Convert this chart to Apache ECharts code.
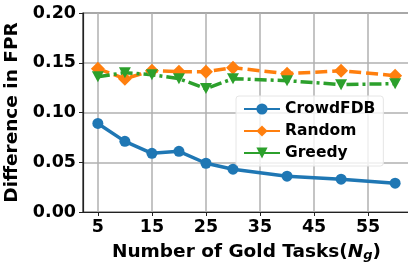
<!DOCTYPE html>
<html>
<head>
<meta charset="utf-8">
<script src="https://cdn.jsdelivr.net/npm/echarts@6/dist/echarts.min.js"></script>
<style>
  html, body { margin: 0; padding: 0; background: #fff; }
  #chart { width: 408px; height: 264px; }
</style>
</head>
<body>
<div id="chart"></div>
<script>
    const goldTasks = [5, 10, 15, 20, 25, 30, 40, 50, 60];
    const crowdFdb = [0.089, 0.071, 0.059, 0.061, 0.049, 0.043, 0.036, 0.033, 0.029];
    const randomSel = [0.144, 0.134, 0.142, 0.141, 0.141, 0.145, 0.139, 0.142, 0.137];
    const greedySel = [0.136, 0.140, 0.138, 0.134, 0.124, 0.134, 0.132, 0.128, 0.129];
    const xTicks = [5, 15, 25, 35, 45, 55];

    const font = "DejaVu Sans";
    const downTriangle = "path://M0,0 L10,0 L5,9 Z";
    const pairs = values => goldTasks.map((x, i) => [x, values[i]]);

    const chart = echarts.init(document.getElementById("chart"), null, { renderer: "canvas" });

    function lineSeries(name, values, color, symbol, symbolSize, dash) {
        return {
            name,
            type: "line",
            data: pairs(values),
            symbol,
            symbolSize,
            showSymbol: true,
            lineStyle: { width: 3.5, color, type: dash },
            itemStyle: { color, borderWidth: 0 },
            emphasis: { disabled: true },
            z: 3
        };
    }

    chart.setOption({
        animation: false,
        backgroundColor: "#fff",
        textStyle: { fontFamily: font },
        grid: {
            show: true,
            left: 83, right: -2, top: 13, bottom: 52,
            outerBoundsMode: "none",
            containLabel: false,
            borderColor: "#222",
            borderWidth: 1.2
        },
        legend: {
            left: 236,
            top: 96,
            orient: "vertical",
            itemWidth: 36,
            itemHeight: 14,
            itemGap: 6,
            padding: [5, 8, 5, 7],
            backgroundColor: "rgba(255,255,255,0.8)",
            borderColor: "#e6e6e6",
            borderWidth: 1,
            borderRadius: 3,
            lineStyle: { type: "solid" },
            textStyle: { fontFamily: font, fontWeight: "bold", fontSize: 15.5, color: "#000" },
            data: ["CrowdFDB", "Random", "Greedy"]
        },
        xAxis: {
            type: "value",
            min: 2.25,
            max: 62.75,
            name: "Number of Gold Tasks({n|N}{s|g})",
            nameLocation: "middle",
            nameGap: 30,
            nameTextStyle: {
                fontFamily: font,
                fontWeight: "bold",
                fontSize: 18.5,
                color: "#000",
                rich: {
                    n: { fontFamily: font, fontWeight: "bold", fontStyle: "italic", fontSize: 18.5, color: "#000" },
                    s: { fontFamily: font, fontWeight: "bold", fontStyle: "italic", fontSize: 13, color: "#000", verticalAlign: "bottom", padding: [7, 0, 0, 0] }
                }
            },
            axisLine: { show: true, onZero: false, lineStyle: { color: "#222", width: 1.2 } },
            axisTick: { show: true, inside: false, length: 4, customValues: xTicks, lineStyle: { color: "#222" } },
            axisLabel: { customValues: xTicks, fontFamily: font, fontWeight: "bold", fontSize: 17.5, color: "#000", margin: 6 },
            splitLine: { show: true, lineStyle: { color: "#b0b0b0", width: 1.5 } }
        },
        yAxis: {
            type: "value",
            min: 0,
            max: 0.2,
            interval: 0.05,
            name: "Difference in FPR",
            nameLocation: "middle",
            nameGap: 57,
            nameTextStyle: { fontFamily: font, fontWeight: "bold", fontSize: 18.5, color: "#000" },
            axisLine: { show: true, lineStyle: { color: "#222", width: 1.2 } },
            axisTick: { show: true, length: 4, lineStyle: { color: "#222" } },
            axisLabel: { fontFamily: font, fontWeight: "bold", fontSize: 17.5, color: "#000", margin: 7, formatter: v => v.toFixed(2) },
            splitLine: { show: true, lineStyle: { color: "#b0b0b0", width: 1.5 } }
        },
        series: [
            lineSeries("CrowdFDB", crowdFdb, "#1f77b4", "circle", 11, "solid"),
            lineSeries("Random", randomSel, "#ff7f0e", "diamond", 14, [12, 5]),
            lineSeries("Greedy", greedySel, "#2ca02c", downTriangle, [12, 11], [12, 4, 3, 4])
        ]
    });
</script>
</body>
</html>
